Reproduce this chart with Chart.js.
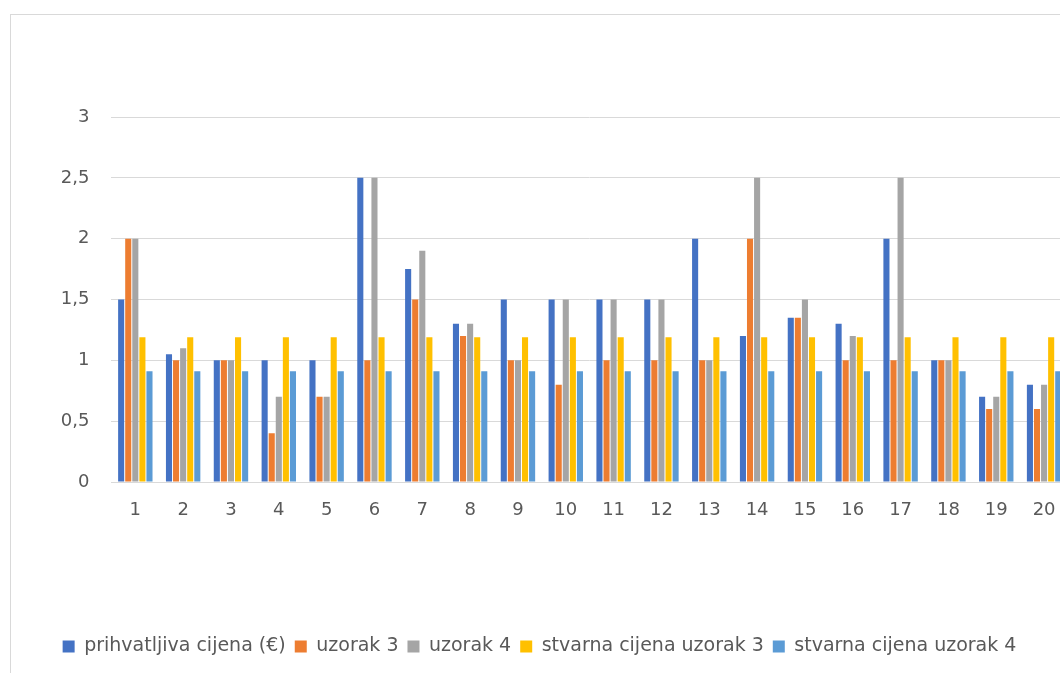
<!DOCTYPE html>
<html>
<head>
<meta charset="utf-8">
<script src="https://cdn.jsdelivr.net/npm/chart.js@4"></script>
<style>
  html,body{margin:0;padding:0;background:#fff;overflow:hidden;width:1060px;height:673px;}
  #box{position:absolute;left:10px;top:14px;width:1085px;height:670px;
       border-left:1px solid #d9d9d9;border-top:1px solid #d9d9d9;}
  #cvs{display:block;}
</style>
</head>
<body>
<div id="box"><canvas id="cvs" width="1084" height="658"></canvas></div>
<script>
/* ===== podaci ===== */
const labels = ['1','2','3','4','5','6','7','8','9','10','11','12','13','14','15','16','17','18','19','20'];
const prihvatljiva = [1.5,1.05,1,1,1,2.5,1.75,1.3,1.5,1.5,1.5,1.5,2,1.2,1.35,1.3,2,1,0.7,0.8];
const uzorak3      = [2,1,1,0.4,0.7,1,1.5,1.2,1,0.8,1,1,1,2,1.35,1,1,1,0.6,0.6];
const uzorak4      = [2,1.1,1,0.7,0.7,2.5,1.9,1.3,1,1.5,1.5,1.5,1,2.5,1.5,1.2,2.5,1,0.7,0.8];
const stvarna3     = [1.19,1.19,1.19,1.19,1.19,1.19,1.19,1.19,1.19,1.19,1.19,1.19,1.19,1.19,1.19,1.19,1.19,1.19,1.19,1.19];
const stvarna4     = [0.91,0.91,0.91,0.91,0.91,0.91,0.91,0.91,0.91,0.91,0.91,0.91,0.91,0.91,0.91,0.91,0.91,0.91,0.91,0.91];
const yTicks = [0,0.5,1,1.5,2,2.5,3];

const FONT = '"DejaVu Sans", sans-serif';
const GRID = '#d9d9d9', TXT = '#595959';

const mkBar = (label, data, col) => ({label, data, backgroundColor:col, borderWidth:0,
  categoryPercentage:0.74, barPercentage:0.86});

new Chart(document.getElementById('cvs'), {
  type:'bar',
  data:{
    labels,
    datasets:[
      mkBar('prihvatljiva cijena (€)', prihvatljiva, '#4472C4'),
      mkBar('uzorak 3', uzorak3, '#ED7D31'),
      mkBar('uzorak 4', uzorak4, '#A5A5A5'),
      mkBar('stvarna cijena uzorak 3', stvarna3, '#FFC000'),
      mkBar('stvarna cijena uzorak 4', stvarna4, '#5B9BD5'),
    ]
  },
  options:{
    responsive:false, animation:false,
    layout:{padding:{top:102,right:27,bottom:7,left:0}},
    plugins:{
      legend:{position:'bottom',
        labels:{boxWidth:12,boxHeight:12,padding:9,color:TXT,font:{family:FONT,size:19}}},
      tooltip:{enabled:false}
    },
    scales:{
      x:{grid:{display:false},border:{display:true,color:GRID,width:1},
         ticks:{color:TXT,padding:10,font:{family:FONT,size:18},maxRotation:0,autoSkip:false},
         afterFit:s=>{s.height=146;}},
      y:{min:0,max:3,
         grid:{color:GRID,drawTicks:false},border:{display:false},
         afterBuildTicks:s=>{s.ticks=yTicks.map(v=>({value:v}));},
         ticks:{color:TXT,padding:22,font:{family:FONT,size:18},
                callback:v=>String(v).replace('.',',')},
         afterFit:s=>{s.width=100.4;}}
    }
  }
});
</script>
</body>
</html>
